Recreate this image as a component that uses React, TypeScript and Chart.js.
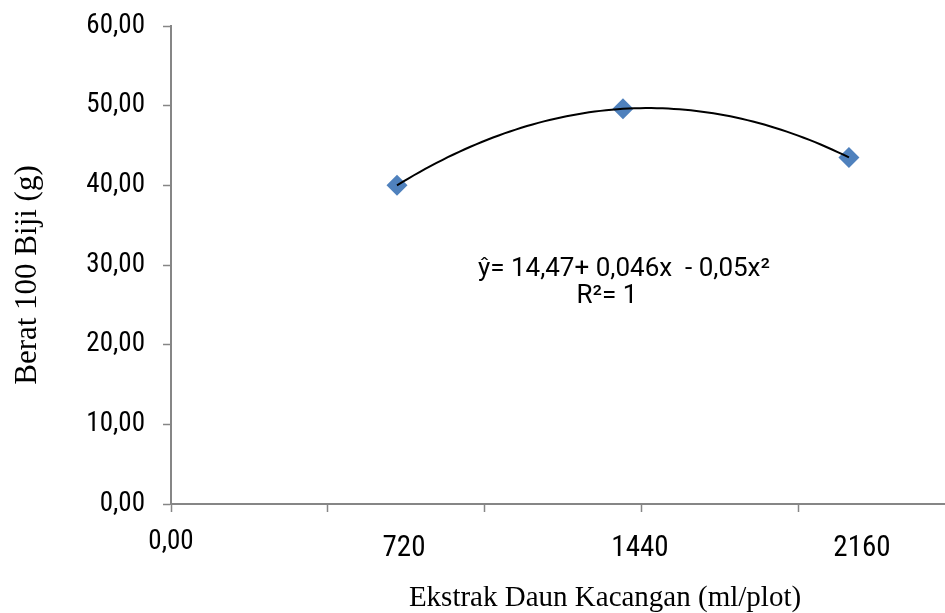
import React, { useEffect, useRef } from "react";
import { Chart, registerables } from "chart.js";

Chart.register(...registerables);

const doses = [720, 1440, 2160];
const weights = [40.0, 49.6, 43.5];
const xLabels = ["720", "1440", "2160"];
const xLabelShift = [7, 17, 13];
const equationLines = ["ŷ= 14,47+ 0,046x  - 0,05x²", "R²= 1"];
const yTitle = "Berat 100 Biji (g)";
const xTitle = "Ekstrak Daun Kacangan (ml/plot)";

const tickFont = "'Roboto Condensed', 'Liberation Sans', sans-serif";
const eqFont = "Roboto, 'Liberation Sans', sans-serif";
const serifFont = "'Liberation Serif', 'Times New Roman', serif";

// quadratic trendline through the observed points (Excel polynomial order 2)
function quadTrend(xs: number[], ys: number[], n: number) {
  const pts: { x: number; y: number }[] = [];
  const [x0, x1, x2] = xs;
  const [y0, y1, y2] = ys;
  const f = (x: number) =>
    (y0 * ((x - x1) * (x - x2))) / ((x0 - x1) * (x0 - x2)) +
    (y1 * ((x - x0) * (x - x2))) / ((x1 - x0) * (x1 - x2)) +
    (y2 * ((x - x0) * (x - x1))) / ((x2 - x0) * (x2 - x1));
  for (let i = 0; i <= n; i++) {
    const x = x0 + ((x2 - x0) * i) / n;
    pts.push({ x, y: f(x) });
  }
  return pts;
}

const fmt = (v: number) => v.toFixed(2).replace(".", ",");

export default function App() {
  const ref = useRef<HTMLCanvasElement>(null);
  useEffect(() => {
    document.body.style.margin = "0";
    const textPlugin = {
      id: "texts",
      afterDraw(chart: any) {
        const ctx = chart.ctx;
        const xs = chart.scales.x;
        const ys = chart.scales.y;
        const area = chart.chartArea;
        ctx.save();
        ctx.fillStyle = "#000";
        ctx.textAlign = "center";
        ctx.textBaseline = "middle";
        ctx.font = `29px ${tickFont}`;
        xLabels.forEach((t, i) => {
          ctx.fillText(t, xs.getPixelForValue(doses[i]) + xLabelShift[i], 549);
        });
        ctx.font = `26px ${eqFont}`;
        const ex = xs.getPixelForValue(1440);
        ctx.fillText(equationLines[0], ex + 1, ys.getPixelForValue(29.4));
        ctx.fillText(equationLines[1], ex - 16, ys.getPixelForValue(26.0));
        ctx.font = `29px ${serifFont}`;
        ctx.fillText(xTitle, (area.left + area.right) / 2 + 47, 598);
        ctx.font = `31px ${serifFont}`;
        ctx.translate(28, (area.top + area.bottom) / 2 + 10);
        ctx.rotate(-Math.PI / 2);
        ctx.fillText(yTitle, 0, 0);
        ctx.restore();
      },
    };
    const chart = new Chart(ref.current!, {
      type: "scatter",
      data: {
        datasets: [
          {
            type: "line",
            data: quadTrend(doses, weights, 80),
            borderColor: "#000",
            borderWidth: 2,
            pointRadius: 0,
            fill: false,
            order: 0,
          } as any,
          {
            data: doses.map((d, i) => ({ x: d, y: weights[i] })),
            pointStyle: "rectRot",
            pointRadius: 10.5,
            backgroundColor: "#4F81BD",
            borderColor: "#4F81BD",
            borderWidth: 0,
            order: 1,
          },
        ],
      },
      plugins: [textPlugin],
      options: {
        animation: false,
        responsive: true,
        maintainAspectRatio: false,
        layout: { autoPadding: false, padding: { top: 26, right: 0, bottom: 0, left: 0 } } as any,
        plugins: { legend: { display: false }, tooltip: { enabled: false } },
        scales: {
          x: {
            type: "linear",
            min: 0,
            max: 2466,
            afterBuildTicks: (s: any) => {
              s.ticks = [0, 500, 1000, 1500, 2000].map((v) => ({ value: v }));
            },
            afterFit: (s: any) => {
              s.height = 109;
              s.paddingLeft = 0;
              s.paddingRight = 0;
            },
            grid: { display: true, drawOnChartArea: false, drawTicks: true, tickLength: 8, tickColor: "#868686", tickWidth: 1.5 } as any,
            border: { display: true, color: "#868686", width: 2 },
            ticks: {
              color: "#000",
              font: { family: tickFont, size: 27 },
              padding: 14,
              maxRotation: 0,
              autoSkip: false,
              callback: (v: any) => (v === 0 ? fmt(0) : ""),
            },
          },
          y: {
            min: 0,
            max: 60,
            afterFit: (s: any) => {
              s.width = 171;
              s.paddingTop = 0;
              s.paddingBottom = 0;
            },
            grid: { display: true, drawOnChartArea: false, drawTicks: true, tickLength: 8, tickColor: "#868686", tickWidth: 1.5 } as any,
            border: { display: true, color: "#868686", width: 2 },
            ticks: {
              stepSize: 10,
              color: "#000",
              font: { family: tickFont, size: 27 },
              padding: 18,
              callback: (v: any) => fmt(Number(v)),
            },
          },
        },
      },
    });
    return () => chart.destroy();
  }, []);
  return (
    <div style={{ position: "absolute", left: 0, top: 0, width: 945, height: 613 }}>
      <canvas ref={ref} />
    </div>
  );
}
